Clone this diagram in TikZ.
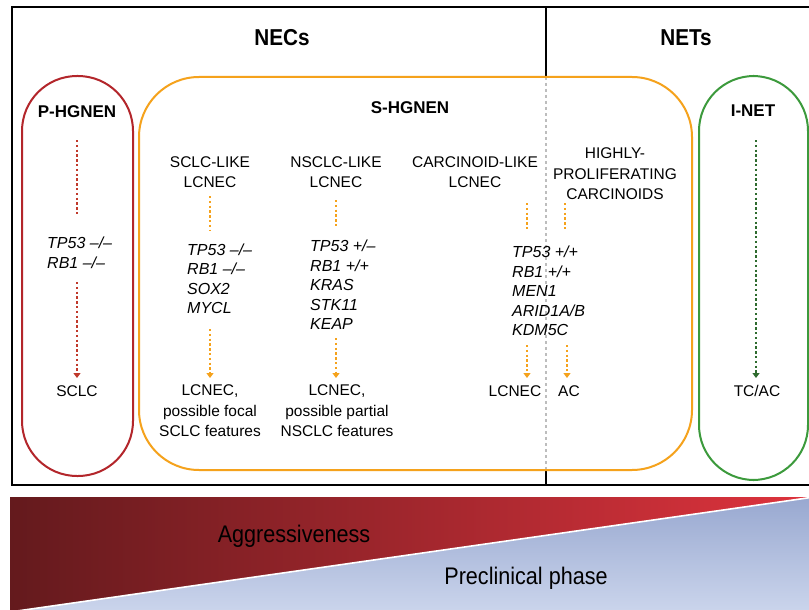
\documentclass[tikz,border=0pt]{standalone}
\usepackage{fontspec}
\setmainfont{Liberation Sans}
\newfontfamily\condfont[FakeStretch=0.9]{Liberation Sans}
\usetikzlibrary{arrows.meta}
\definecolor{pred}{HTML}{B3262B}
\definecolor{parrow}{HTML}{C0392B}
\definecolor{porange}{HTML}{F5A21C}
\definecolor{pgreen}{HTML}{3C9A3C}
\definecolor{pgarrow}{HTML}{2E6B2E}
\definecolor{pgray}{HTML}{BDBDBD}
\definecolor{redL}{HTML}{641A1D}
\definecolor{redR}{HTML}{DE333D}
\definecolor{blueT}{HTML}{98A8D0}
\definecolor{blueB}{HTML}{CBD5EC}
\tikzset{
  lbl/.style={font=\fontsize{15.5}{20.5}\selectfont, align=center, inner sep=0pt},
  ttl/.style={font=\fontsize{17}{20}\selectfont\bfseries, inner sep=0pt},
  head/.style={font=\condfont\fontsize{23}{26}\selectfont\bfseries, inner sep=0pt},
  gene/.style={font=\fontsize{16}{19.5}\selectfont\itshape, align=left, inner sep=0pt, anchor=west},
  band/.style={font=\condfont\fontsize{24}{26}\selectfont, inner sep=0pt},
  dline/.style={line width=2.2pt, dash pattern=on 2.4pt off 2.4pt},
  darr/.style={dline, -{Triangle[width=7pt,length=5pt]}},
  pill/.style={line width=2pt, rounded corners=55pt}
}
\begin{document}
\begin{tikzpicture}[x=1pt,y=-1pt]
\clip (0,0) rectangle (809,610);
\fill[white] (0,0) rectangle (809,610);

% outer frame
\draw[line width=1.3pt] (12,7) rectangle (840,485);
\coordinate (dtop) at (546,7);
\coordinate (dmid1) at (546,77);
\coordinate (dmid2) at (546,470);
\coordinate (dbot) at (546,485);
\draw[line width=1.3pt] (dtop) -- (dmid1);
\draw[line width=1.3pt] (dmid2) -- (dbot);
\draw[pgray, line width=1.4pt, dash pattern=on 3pt off 3pt] (dmid1) -- (dmid2);

\node[head] (necs) at (282,38) {NECs};
\node[head] (nets) at (686,38) {NETs};

% boxes
\draw[pred, pill] (22,76) rectangle (133,476);
\draw[porange, line width=2pt, rounded corners=60pt] (139,77) rectangle (692,470);
\draw[pgreen, pill] (699,76) rectangle (808,480);

% P-HGNEN
\node[ttl] (pt) at (77,112) {P-HGNEN};
\node[gene] (pg) at (47,253) {TP53 –/–\\RB1 –/–};
\node[lbl] (pr) at (77,391) {SCLC};
\coordinate (pa1) at (77,140); \coordinate (pa2) at (77,215);
\coordinate (pa3) at (77,282); \coordinate (pa4) at (77,378);
\draw[parrow, dline] (pa1) -- (pa2);
\draw[parrow, darr] (pa3) -- (pa4);

% S-HGNEN
\node[ttl] (st) at (410,108) {S-HGNEN};

% column 1
\node[lbl] (c1h) at (210,172) {SCLC-LIKE\\LCNEC};
\node[gene] (c1g) at (187,279) {TP53 –/–\\RB1 –/–\\SOX2\\MYCL};
\node[lbl] (c1r) at (210,411) {LCNEC,\\possible focal\\SCLC features};
\coordinate (c1a1) at (210,196); \coordinate (c1a2) at (210,230);
\coordinate (c1a3) at (210,329); \coordinate (c1a4) at (210,378);
\draw[porange, dline] (c1a1) -- (c1a2);
\draw[porange, darr] (c1a3) -- (c1a4);

% column 2
\node[lbl] (c2h) at (336,172) {NSCLC-LIKE\\LCNEC};
\node[gene] (c2g) at (310,285) {TP53 +/–\\RB1 +/+\\KRAS\\STK11\\KEAP};
\node[lbl] (c2r) at (337,411) {LCNEC,\\possible partial\\NSCLC features};
\coordinate (c2a1) at (336,200); \coordinate (c2a2) at (336,226);
\coordinate (c2a3) at (336,338); \coordinate (c2a4) at (336,378);
\draw[porange, dline] (c2a1) -- (c2a2);
\draw[porange, darr] (c2a3) -- (c2a4);

% column 3
\node[lbl] (c3h) at (475,172) {CARCINOID-LIKE\\LCNEC};
\node[gene] (c3g) at (512,291) {TP53 +/+\\RB1 +/+\\MEN1\\ARID1A/B\\KDM5C};
\node[lbl] (c3r) at (515,391) {LCNEC};
\coordinate (c3a1) at (527,203); \coordinate (c3a2) at (527,229);
\coordinate (c3a3) at (527,345); \coordinate (c3a4) at (527,378);
\draw[porange, dline] (c3a1) -- (c3a2);
\draw[porange, darr] (c3a3) -- (c3a4);

% column 4
\node[lbl] (c4h) at (615,174) {HIGHLY-\\PROLIFERATING\\CARCINOIDS};
\node[lbl] (c4r) at (569,391) {AC};
\coordinate (c4a1) at (565,203); \coordinate (c4a2) at (565,229);
\coordinate (c4a3) at (567,345); \coordinate (c4a4) at (567,378);
\draw[porange, dline] (c4a1) -- (c4a2);
\draw[porange, darr] (c4a3) -- (c4a4);

% I-NET
\node[ttl] (it) at (753,111) {I-NET};
\node[lbl] (ir) at (757,391) {TC/AC};
\coordinate (ia1) at (756,140); \coordinate (ia2) at (756,378);
\draw[pgarrow, darr] (ia1) -- (ia2);

% bottom band
\shade[left color=redL, right color=redR] (10,497) -- (812,497) -- (812,497.3) -- (10,612) -- cycle;
\shade[top color=blueT, bottom color=blueB] (10,612) -- (812,497.3) -- (812,612) -- cycle;
\draw[white, line width=1.6pt] (10,612) -- (812,497.3);
\node[band] (agg) at (294,536) {Aggressiveness};
\node[band] (pre) at (526,578) {Preclinical phase};
\end{tikzpicture}
\end{document}
